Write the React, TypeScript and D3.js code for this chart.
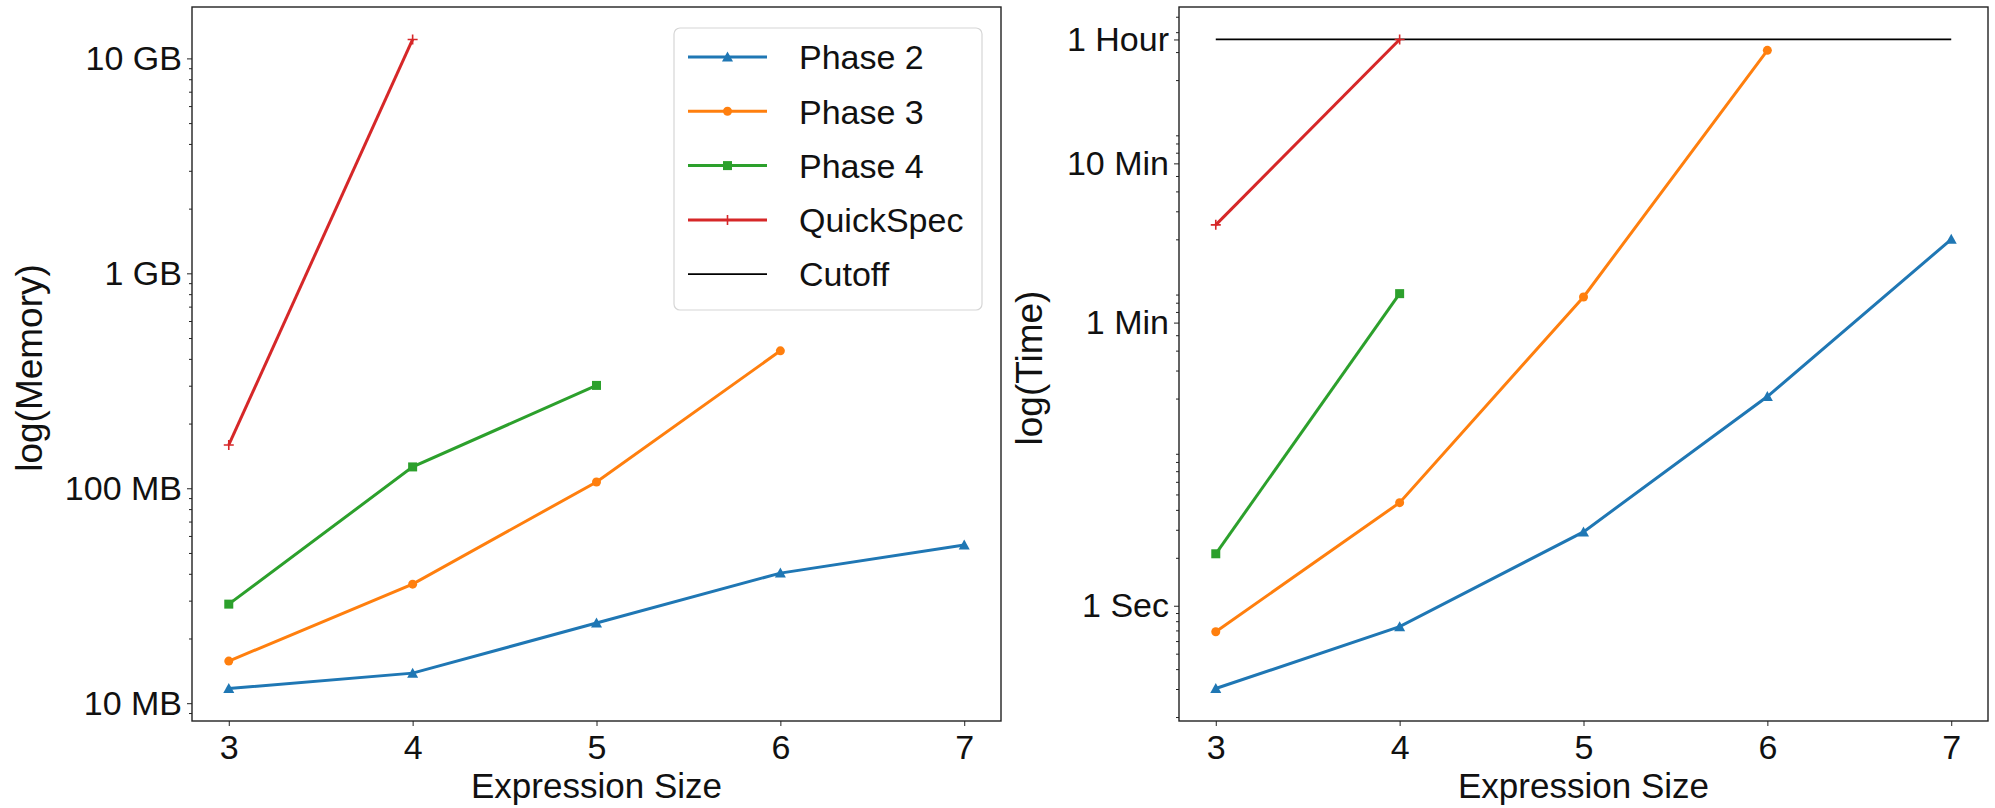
import * as d3 from "d3";
import React, { useEffect, useRef } from "react";

// expression sizes on the x axis
const sizes = [3, 4, 5, 6, 7];

// memory use, in MB
const memPhase2 = [11.7, 13.8, 23.6, 40.3, 54.4];
const memPhase3 = [15.7, 35.8, 107, 436];
const memPhase4 = [28.9, 125.7, 301];
const memQuickSpec = [159, 12250];

// run time, in seconds
const timePhase2 = [0.302, 0.739, 2.91, 20.6, 200];
const timePhase3 = [0.687, 4.44, 86.9, 3075];
const timePhase4 = [2.12, 91.2];
const timeQuickSpec = [246.6, 3600];
const cutoff = 3600;

const memTicks = [10, 100, 1000, 10000];
const memTickLabels = ["10 MB", "100 MB", "1 GB", "10 GB"];
const timeTicks = [1, 60, 600, 3600];
const timeTickLabels = ["1 Sec", "1 Min", "10 Min", "1 Hour"];

const seriesNames = ["Phase 2", "Phase 3", "Phase 4", "QuickSpec", "Cutoff"];
const colors = ["#1f77b4", "#ff7f0e", "#2ca02c", "#d62728", "#000000"];
const markers = ["triangle", "circle", "square", "plus", "none"];

const FONT = "'Liberation Sans', Arial, sans-serif";

const drawMarker = (g, type, x, y, color) => {
  if (type === "circle") {
    g.append("circle").attr("cx", x).attr("cy", y).attr("r", 4.5).attr("fill", color);
  } else if (type === "square") {
    g.append("rect").attr("x", x - 4.5).attr("y", y - 4.5).attr("width", 9).attr("height", 9).attr("fill", color);
  } else if (type === "triangle") {
    g.append("path")
      .attr("d", `M${x},${y - 5.5}L${x + 5.5},${y + 4.5}L${x - 5.5},${y + 4.5}Z`)
      .attr("fill", color);
  } else if (type === "plus") {
    g.append("path")
      .attr("d", `M${x - 5},${y}H${x + 5}M${x},${y - 5}V${y + 5}`)
      .attr("stroke", color)
      .attr("stroke-width", 1.6);
  }
};

// log extent with matplotlib's 5% margin
const logDomain = (values) => {
  const [lo, hi] = d3.extent(values.map((v) => Math.log10(v)));
  const pad = (hi - lo) * 0.05;
  return [Math.pow(10, lo - pad), Math.pow(10, hi + pad)];
};

const minorTicks = (domain, majors) => {
  const out = [];
  const k0 = Math.floor(Math.log10(domain[0]));
  const k1 = Math.ceil(Math.log10(domain[1]));
  for (let k = k0; k <= k1; k++) {
    for (let m = 2; m <= 9; m++) {
      const v = m * Math.pow(10, k);
      if (v >= domain[0] && v <= domain[1] && !majors.includes(v)) out.push(v);
    }
  }
  return out;
};

const drawPanel = (svg, opts) => {
  const { left, top, width, height, series, ticks, tickLabels, yLabel, labelX, showCutoff } = opts;
  const g = svg.append("g").attr("transform", `translate(${left},${top})`);

  const all = series.flat().concat(showCutoff ? [cutoff] : []);
  const yDomain = logDomain(all);

  const x = d3.scaleLinear().domain([2.8, 7.2]).range([0, width]);
  const y = d3.scaleLog().domain(yDomain).range([height, 0]);

  // minor y ticks
  g.append("g")
    .call(d3.axisLeft(y).tickValues(minorTicks(yDomain, ticks)).tickSize(3).tickFormat(() => ""))
    .call((a) => a.select(".domain").remove())
    .selectAll("line")
    .attr("stroke", "#222");

  // major y ticks
  const ya = g
    .append("g")
    .call(
      d3
        .axisLeft(y)
        .tickValues(ticks)
        .tickSize(5)
        .tickPadding(5)
        .tickFormat((d, i) => tickLabels[i])
    );
  ya.select(".domain").remove();
  ya.selectAll("line").attr("stroke", "#222");
  ya.selectAll("text").attr("font-family", FONT).attr("font-size", 34).attr("fill", "#111");

  // x ticks
  const xa = g
    .append("g")
    .attr("transform", `translate(0,${height})`)
    .call(d3.axisBottom(x).tickValues(sizes).tickSize(5).tickPadding(9).tickFormat(d3.format("d")));
  xa.select(".domain").remove();
  xa.selectAll("line").attr("stroke", "#222");
  xa.selectAll("text").attr("font-family", FONT).attr("font-size", 34).attr("fill", "#111");

  g.append("text")
    .attr("x", width / 2)
    .attr("y", height + 77)
    .attr("text-anchor", "middle")
    .attr("font-family", FONT)
    .attr("font-size", 35)
    .attr("fill", "#111")
    .text("Expression Size");

  g.append("text")
    .attr("transform", `translate(${labelX - left},${height / 2 + 4}) rotate(-90)`)
    .attr("text-anchor", "middle")
    .attr("font-family", FONT)
    .attr("font-size", 37)
    .attr("fill", "#111")
    .text(yLabel);

  if (showCutoff) {
    g.append("line")
      .attr("x1", x(sizes[0]))
      .attr("x2", x(sizes[sizes.length - 1]))
      .attr("y1", y(cutoff))
      .attr("y2", y(cutoff))
      .attr("stroke", "#000")
      .attr("stroke-width", 1.8);
  }

  const line = d3
    .line()
    .x((d, i) => x(sizes[i]))
    .y((d) => y(d));

  series.forEach((vals, s) => {
    g.append("path")
      .attr("d", line(vals))
      .attr("fill", "none")
      .attr("stroke", colors[s])
      .attr("stroke-width", 3);
    vals.forEach((v, i) => drawMarker(g, markers[s], x(sizes[i]), y(v), colors[s]));
  });

  g.append("rect")
    .attr("width", width)
    .attr("height", height)
    .attr("fill", "none")
    .attr("stroke", "#222")
    .attr("stroke-width", 1.4);

  return g;
};

const App = () => {
  const svgRef = useRef();

  useEffect(() => {
    const svg = d3.select(svgRef.current);
    svg.selectAll("*").remove();

    drawPanel(svg, {
      left: 192,
      top: 7,
      width: 809,
      height: 714,
      series: [memPhase2, memPhase3, memPhase4, memQuickSpec],
      ticks: memTicks,
      tickLabels: memTickLabels,
      yLabel: "log(Memory)",
      labelX: 42,
      showCutoff: false,
    });

    drawPanel(svg, {
      left: 1179,
      top: 7,
      width: 809,
      height: 714,
      series: [timePhase2, timePhase3, timePhase4, timeQuickSpec],
      ticks: timeTicks,
      tickLabels: timeTickLabels,
      yLabel: "log(Time)",
      labelX: 1042,
      showCutoff: true,
    });

    // legend
    const lg = svg.append("g").attr("transform", "translate(674,28)");
    lg.append("rect")
      .attr("width", 308)
      .attr("height", 282)
      .attr("rx", 6)
      .attr("fill", "#fff")
      .attr("fill-opacity", 0.8)
      .attr("stroke", "#d6d6d6")
      .attr("stroke-width", 1.2);

    seriesNames.forEach((name, i) => {
      const cy = 29 + i * 54.3;
      lg.append("line")
        .attr("x1", 14)
        .attr("x2", 93)
        .attr("y1", cy)
        .attr("y2", cy)
        .attr("stroke", colors[i])
        .attr("stroke-width", i === 4 ? 1.8 : 3);
      drawMarker(lg, markers[i], 53.5, cy, colors[i]);
      lg.append("text")
        .attr("x", 125)
        .attr("y", cy)
        .attr("dy", "0.36em")
        .attr("font-family", FONT)
        .attr("font-size", 34)
        .attr("fill", "#111")
        .text(name);
    });
  }, []);

  return (
    <svg
      ref={svgRef}
      width={1995}
      height={808}
      style={{ position: "absolute", left: 0, top: 0, background: "#fff" }}
    ></svg>
  );
};

export default App;
